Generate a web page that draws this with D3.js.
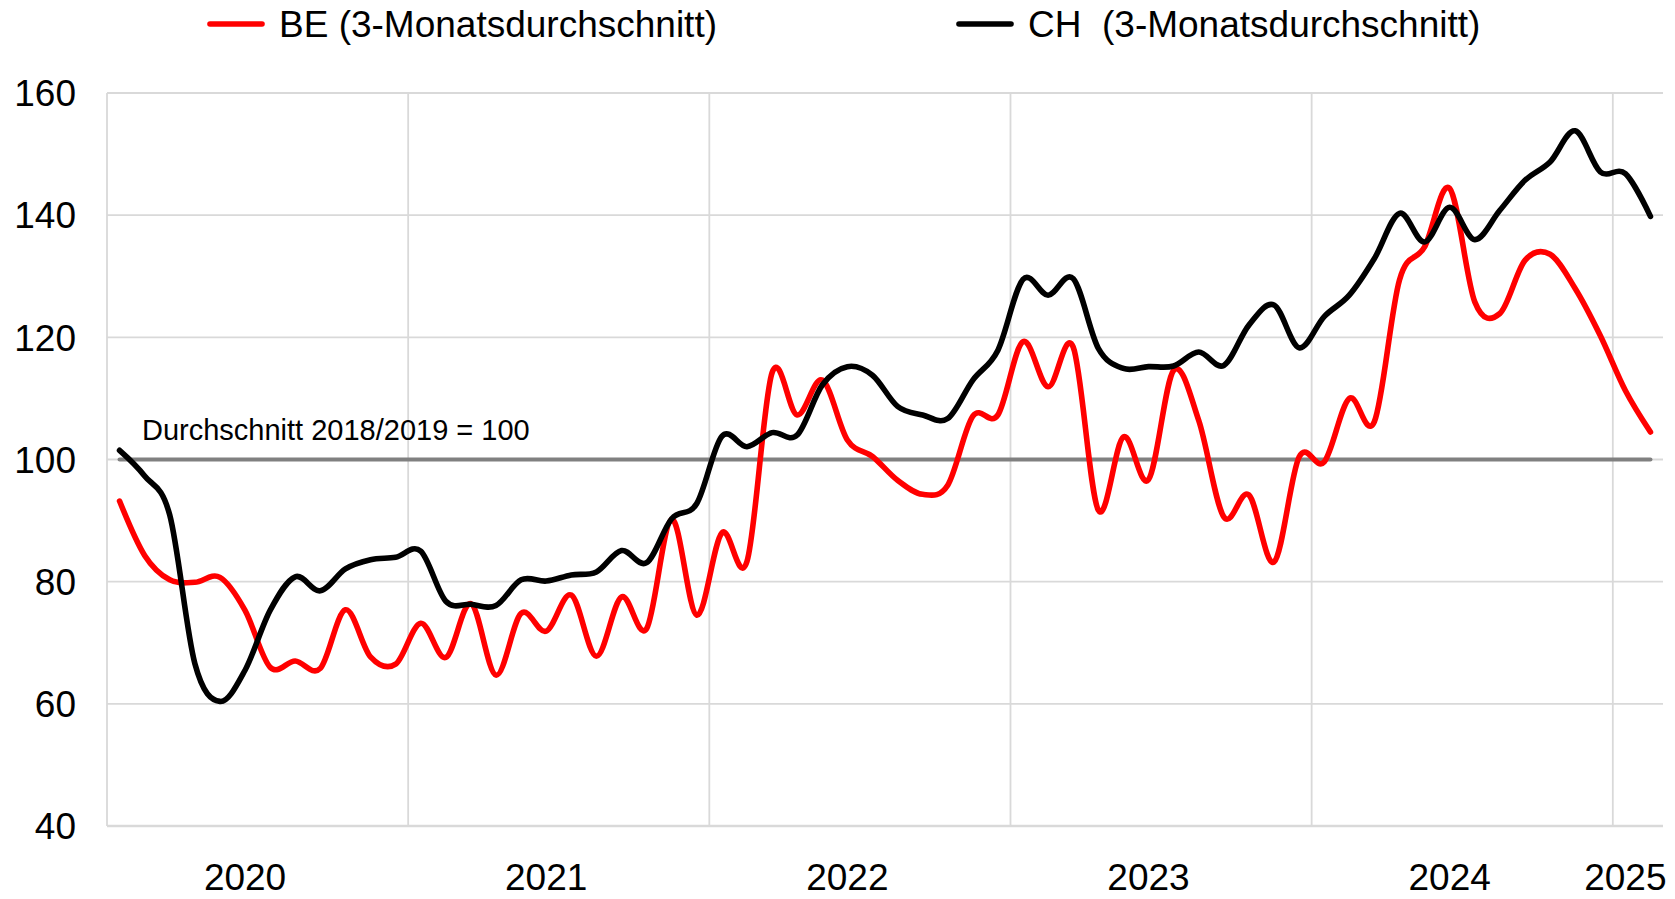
<!DOCTYPE html>
<html>
<head>
<meta charset="utf-8">
<script src="https://cdn.jsdelivr.net/npm/d3@7"></script>
<style>
  body { margin: 0; background: #fff; }
  text { font-family: "Liberation Sans", Arial, sans-serif; }
</style>
</head>
<body>
<div id="container"></div>
<script>
// DATA

const fmt = d3.timeFormat("%Y-%m")
const months = d3.timeMonth.range(new Date(2020, 0, 1), new Date(2025, 2, 1)).map(fmt)  // Jan 2020 - Feb 2025

const beValues = [
  93.2, 84.3, 80.3, 79.9, 80.7, 75.3, 66.0, 67.0, 65.8, 75.4, 67.7, 66.5,
  73.2, 67.6, 76.4, 64.7, 74.8, 71.9, 77.8, 67.8, 77.5, 72.3, 90.2, 74.5,
  88.0, 83.3, 114.2, 107.3, 113.0, 103.2, 100.5, 96.6, 94.3, 95.8, 107.1, 107.3,
  119.3, 111.9, 118.4, 91.7, 103.7, 96.7, 114.6, 106.4, 90.6, 94.2, 83.2, 100.4,
  99.6, 110.0, 106.2, 129.4, 134.8, 144.4, 125.8, 123.9, 132.6, 133.6, 128.0, 120.3,
  111.3, 104.5
]

const chValues = [
  101.5, 97.3, 90.9, 66.6, 60.4, 65.5, 75.3, 80.8, 78.5, 82.1, 83.6, 84.0,
  85.0, 76.8, 76.3, 76.1, 80.3, 80.1, 81.1, 81.6, 85.1, 83.1, 90.3, 92.8,
  103.8, 102.1, 104.4, 104.0, 112.2, 115.2, 113.8, 108.7, 107.3, 106.7, 113.0, 117.9,
  129.5, 126.9, 129.6, 118.2, 114.9, 115.2, 115.3, 117.6, 115.4, 122.0, 125.3, 118.3,
  123.4, 126.9, 132.9, 140.3, 135.6, 141.3, 136.0, 140.8, 145.7, 148.7, 153.8, 147.1,
  146.8, 139.8
]

const baseValue = 100
const yTicks = [40, 60, 80, 100, 120, 140, 160]
const yearLabels = ["2020", "2021", "2022", "2023", "2024", "2025"]
const yearLabelMonths = ["2020-06", "2021-06", "2022-06", "2023-06", "2024-06", "2025-01"]
const seriesNames = ["BE (3-Monatsdurchschnitt)", "CH  (3-Monatsdurchschnitt)"]
const seriesColors = ["#ff0000", "#000000"]

// VARIABLES

const width = 1675,
      height = 899,
      margin = {top: 93, bottom: 73, left: 107, right: 12}

// SCALES

const xScale = d3.scaleBand()
    .domain(months)
    .range([margin.left, width - margin.right])

const xMid = m => xScale(m) + xScale.bandwidth() / 2

const yScale = d3.scaleLinear()
    .domain([40, 160])
    .range([height - margin.bottom, margin.top])

// ELEMENTS

const svg = d3.select("#container")
    .append("svg")
    .attr("width", width)
    .attr("height", height)

// horizontal grid
svg.append("g")
    .selectAll("line")
    .data(yTicks)
    .join("line")
    .attr("x1", margin.left)
    .attr("x2", width - margin.right)
    .attr("y1", d => yScale(d))
    .attr("y2", d => yScale(d))
    .attr("stroke", "#d9d9d9")
    .attr("stroke-width", d => d === 40 ? 2.5 : 1.8)

// vertical grid at year boundaries
const januaries = months.filter(m => m.endsWith("-01"))
svg.append("g")
    .selectAll("line")
    .data(januaries)
    .join("line")
    .attr("x1", d => xScale(d))
    .attr("x2", d => xScale(d))
    .attr("y1", yScale(160))
    .attr("y2", yScale(40))
    .attr("stroke", "#d9d9d9")
    .attr("stroke-width", 1.8)

// y tick labels
svg.append("g")
    .selectAll("text")
    .data(yTicks)
    .join("text")
    .attr("x", 76)
    .attr("y", d => yScale(d))
    .attr("dy", "0.36em")
    .attr("text-anchor", "end")
    .attr("font-size", 37)
    .text(d => d)

// year labels
svg.append("g")
    .selectAll("text")
    .data(yearLabels)
    .join("text")
    .attr("x", (d, i) => xMid(yearLabelMonths[i]))
    .attr("y", 890)
    .attr("text-anchor", "middle")
    .attr("font-size", 37)
    .text(d => d)

// reference line 100
svg.append("line")
    .attr("x1", xMid(months[0]))
    .attr("x2", xMid(months[months.length - 1]))
    .attr("y1", yScale(baseValue))
    .attr("y2", yScale(baseValue))
    .attr("stroke", "#808080")
    .attr("stroke-width", 4)
    .attr("stroke-linecap", "round")

svg.append("text")
    .attr("x", 142)
    .attr("y", 440)
    .attr("font-size", 29)
    .text("Durchschnitt 2018/2019 = 100")

// SERIES

const line = d3.line()
    .x((d, i) => xMid(months[i]))
    .y(d => yScale(d))
    .curve(d3.curveCatmullRom.alpha(0))

svg.selectAll("path.series")
    .data([beValues, chValues])
    .join("path")
    .attr("class", "series")
    .attr("d", d => line(d))
    .attr("fill", "none")
    .attr("stroke", (d, i) => seriesColors[i])
    .attr("stroke-width", 5.6)
    .attr("stroke-linecap", "round")
    .attr("stroke-linejoin", "round")

// LEGEND

const legendX = [210, 959]
const legend = svg.append("g")
    .selectAll("g")
    .data(seriesNames)
    .join("g")
    .attr("transform", (d, i) => `translate(${legendX[i]},0)`)

legend.append("line")
    .attr("x1", 0)
    .attr("x2", 52)
    .attr("y1", 24)
    .attr("y2", 24)
    .attr("stroke", (d, i) => seriesColors[i])
    .attr("stroke-width", 5.6)
    .attr("stroke-linecap", "round")

legend.append("text")
    .attr("x", 69)
    .attr("y", 37)
    .attr("font-size", 37)
    .attr("xml:space", "preserve")
    .style("white-space", "pre")
    .text(d => d)
</script>
</body>
</html>
